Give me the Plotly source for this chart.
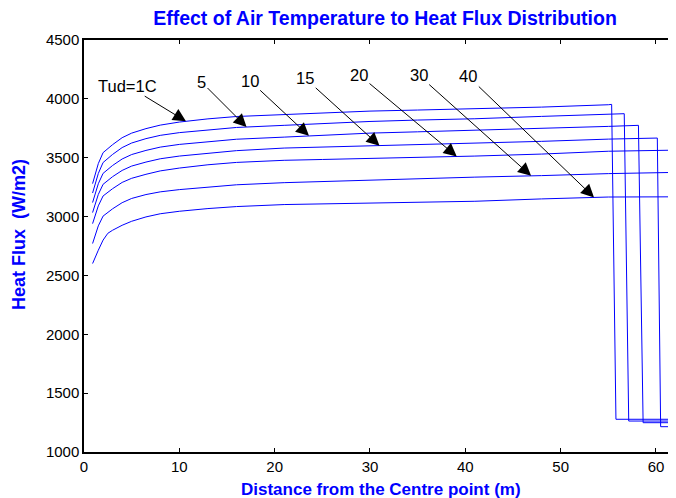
import numpy as np
import plotly.graph_objects as go

# Distance from the centre point (m) - common sampling of the rising part
distance = [0.9, 1.2, 1.5, 2, 2.5, 3, 4, 5, 6.5, 8, 10, 13, 16, 21, 25, 30, 35, 41, 48, 55]

# Heat flux (W/m2) for each air temperature
flux_1 = [3280, 3375, 3450, 3543, 3580, 3611, 3670, 3709, 3747, 3777, 3803, 3830, 3850, 3868, 3882, 3896, 3905, 3916, 3930, 3950]
flux_5 = [3200, 3293, 3366, 3459, 3495, 3528, 3586, 3625, 3662, 3690, 3713, 3738, 3757, 3775, 3790, 3808, 3820, 3831, 3851, 3868]
flux_10 = [3119, 3208, 3279, 3367, 3402, 3434, 3489, 3527, 3562, 3590, 3613, 3638, 3657, 3675, 3692, 3709, 3720, 3732, 3747, 3766]
flux_15 = [3034, 3120, 3188, 3274, 3308, 3339, 3392, 3429, 3463, 3491, 3514, 3540, 3560, 3582, 3590, 3600, 3612, 3624, 3639, 3658]
flux_20 = [2940, 3024, 3091, 3175, 3207, 3237, 3290, 3325, 3359, 3388, 3412, 3440, 3460, 3478, 3485, 3493, 3504, 3514, 3531, 3555]
flux_30 = [2771, 2854, 2921, 3004, 3036, 3066, 3118, 3154, 3187, 3210, 3229, 3252, 3270, 3288, 3298, 3309, 3322, 3335, 3348, 3365]
flux_40 = [2601, 2660, 2714, 2800, 2858, 2884, 2926, 2960, 2997, 3024, 3045, 3068, 3085, 3102, 3108, 3115, 3122, 3130, 3150, 3166]

# End of each curve (drop at the edge)
tail_x_1 = [55.35, 55.8, 62.5]
tail_y_1 = [3953, 1278, 1278]
tail_x_5 = [56.67, 57.14, 62.5]
tail_y_5 = [3874, 1263, 1263]
tail_x_10 = [58.16, 58.65, 62.5]
tail_y_10 = [3775, 1249, 1249]
tail_x_15 = [60.14, 60.49, 62.5]
tail_y_15 = [3667, 1215, 1215]
tail_x_20 = [62.5]
tail_y_20 = [3565]
tail_x_30 = [62.5]
tail_y_30 = [3376]
tail_x_40 = [62.5]
tail_y_40 = [3168]

labels = ["Tud=1C", "5", "10", "15", "20", "30", "40"]
arrow_x = [10.7, 17.05, 23.6, 31.0, 39.1, 46.9, 53.5]

curves = [
    (flux_1, tail_x_1, tail_y_1),
    (flux_5, tail_x_5, tail_y_5),
    (flux_10, tail_x_10, tail_y_10),
    (flux_15, tail_x_15, tail_y_15),
    (flux_20, tail_x_20, tail_y_20),
    (flux_30, tail_x_30, tail_y_30),
    (flux_40, tail_x_40, tail_y_40),
]

# label offsets (px) from arrow head
label_off = [(-58.5, -35.7), (-45, -45), (-59.3, -55.3), (-74.3, -67.3),
             (-97.7, -81.7), (-112.4, -100.7), (-125.7, -121)]

BLUE = "#0000FF"
FONT = "Liberation Sans, Arial, Helvetica, sans-serif"

# page body has an 8px margin; figure sized to fill the rest of the window
W, H = 668, 490
L, T, B = 76, 32, 46
PW, PH = W - L, H - T - B

fig = go.Figure()
annotations = []
for i, (fl, tx, ty) in enumerate(curves):
    xs = list(distance) + tx
    ys = list(fl) + ty
    fig.add_trace(go.Scatter(x=xs, y=ys, mode="lines",
                             line=dict(color=BLUE, width=1),
                             showlegend=False, hoverinfo="skip"))
    hy = float(np.interp(arrow_x[i], xs, ys))
    annotations.append(dict(
        x=arrow_x[i], y=hy, xref="x", yref="y",
        text=labels[i], showarrow=True,
        ax=label_off[i][0], ay=label_off[i][1],
        arrowhead=2, arrowsize=2.6, arrowwidth=1, arrowcolor="black",
        standoff=0, startstandoff=0,
        font=dict(family=FONT, size=16.5, color="black"),
    ))

annotations.append(dict(
    text="Heat Flux  (W/m2)", textangle=-90,
    xref="paper", yref="paper", x=(11 - L) / PW, y=(PH + T - 227) / PH,
    showarrow=False, xanchor="center", yanchor="middle",
    font=dict(family=FONT, size=18, color=BLUE, weight="bold"),
))
annotations.append(dict(
    text="Distance from the Centre point (m)",
    xref="paper", yref="paper", x=(373 - L) / PW, y=(PH + T - 481) / PH,
    showarrow=False, xanchor="center", yanchor="middle",
    font=dict(family=FONT, size=17, color=BLUE, weight="bold"),
))

fig.update_layout(
    width=W, height=H,
    margin=dict(l=L, r=0, t=T, b=B),
    paper_bgcolor="white", plot_bgcolor="white",
    title=dict(text="Effect of Air Temperature to Heat Flux Distribution",
               x=377 / W, xanchor="center",
               y=1 - 10 / H, yanchor="middle",
               font=dict(family=FONT, size=19.5, color=BLUE, weight="bold")),
    xaxis=dict(range=[0, 62.1], tickvals=[0, 10, 20, 30, 40, 50, 60],
               ticks="inside", ticklen=4, tickcolor="black", tickwidth=1,
               showline=True, linecolor="black", linewidth=1.5, mirror="ticks",
               showgrid=False, zeroline=False,
               tickfont=dict(family=FONT, size=15, color="black")),
    yaxis=dict(range=[1000, 4500], tickvals=[1000, 1500, 2000, 2500, 3000, 3500, 4000, 4500],
               ticks="inside", ticklen=4, tickcolor="black", tickwidth=1,
               showline=True, linecolor="black", linewidth=1.5, mirror=False,
               showgrid=False, zeroline=False,
               tickfont=dict(family=FONT, size=15, color="black")),
    annotations=annotations,
)

fig.write_html("out.html")
